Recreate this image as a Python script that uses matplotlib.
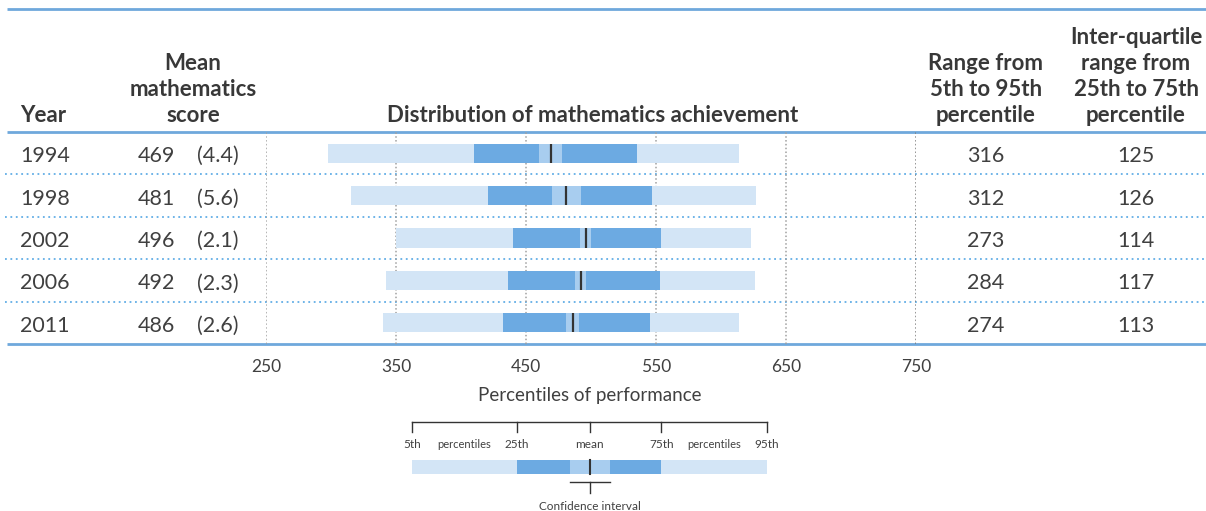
import numpy as np
import matplotlib
matplotlib.use('Agg')
import matplotlib.pyplot as plt

# data
years = ['1994', '1998', '2002', '2006', '2011']
mean_score = [469, 481, 496, 492, 486]
mean_se = [4.4, 5.6, 2.1, 2.3, 2.6]
p5 = [298, 315, 350, 342, 340]
p25 = [410, 421, 440, 436, 432]
p75 = [535, 547, 554, 553, 545]
p95 = [614, 627, 623, 626, 614]
range_5_95 = [316, 312, 273, 284, 274]
iqr_25_75 = [125, 126, 114, 117, 113]
score_ticks = [250, 350, 450, 550, 650, 750]

# schematic legend, position in percent of the key bar
key_marks = [0, 29.6, 50, 70.2, 100]
key_labels = ['5th', '25th', 'mean', '75th', '95th']
key_ci = [44.6, 55.9]

LIGHT = '#d3e5f6'
DARK = '#6caae2'
CI = '#a8cdef'
TXT = '#404040'
RULE = '#6fa8dc'
DOT = '#62aee6'

plt.rcParams['font.family'] = ['Lato', 'DejaVu Sans']

W, H = 1206, 511
fig = plt.figure(figsize=(W / 100, H / 100), dpi=100)

# background axes in pixel units for the table frame and text
bg = fig.add_axes([0, 0, 1, 1])
bg.set_xlim(0, W)
bg.set_ylim(H, 0)
bg.axis('off')

top_rule, head_rule, bot_rule = 9, 132, 344
row_h = (bot_rule - head_rule) / len(years)

for y in [top_rule, head_rule, bot_rule]:
    bg.plot([7, W], [y, y], color=RULE, lw=2, solid_capstyle='butt')
for i in range(1, len(years)):
    y = head_rule + i * row_h
    bg.plot([5, W], [y, y], color=DOT, lw=1.3, linestyle=(0, (1, 2)))

# headers
def header(x, lines, ha='center'):
    n = len(lines)
    for i, s in enumerate(lines):
        bg.text(x, 122 - 26 * (n - 1 - i), s, ha=ha, va='baseline',
                fontsize=16, fontweight='bold', color='#383838')

header(20, ['Year'], ha='left')
header(193, ['Mean', 'mathematics', 'score'])
header(593, ['Distribution of mathematics achievement'])
header(986, ['Range from', '5th to 95th', 'percentile'])
header(1136, ['Inter-quartile', 'range from', '25th to 75th', 'percentile'])

# row text
for i, yr in enumerate(years):
    yc = head_rule + (i + 0.5) * row_h + 3
    bg.text(20, yc, yr, ha='left', va='center', fontsize=15.5, color=TXT)
    bg.text(175, yc, str(mean_score[i]), ha='right', va='center', fontsize=15.5, color=TXT)
    bg.text(197, yc, '(%.1f)' % mean_se[i], ha='left', va='center', fontsize=15.5, color=TXT)
    bg.text(986, yc, str(range_5_95[i]), ha='center', va='center', fontsize=15.5, color=TXT)
    bg.text(1136, yc, str(iqr_25_75[i]), ha='center', va='center', fontsize=15.5, color=TXT)

bg.text(590, 395, 'Percentiles of performance', ha='center', va='center',
        fontsize=13.5, color=TXT)

# distribution bars
x0, x1 = 266, 916
ax = fig.add_axes([x0 / W, (H - bot_rule) / H, (x1 - x0) / W, (bot_rule - head_rule) / H])
ax.set_xlim(250, 750)
ax.set_ylim(len(years) - 0.5, -0.5)
ax.patch.set_alpha(0)
for s in ax.spines.values():
    s.set_visible(False)
ax.set_yticks([])
ax.set_xticks(score_ticks)
ax.set_xticklabels([str(t) for t in score_ticks])
ax.tick_params(axis='x', length=0, pad=11, labelsize=12.5, labelcolor=TXT)

for t in score_ticks:
    c = '#7a7a7a' if t == 750 else '#a0a0a0'
    ax.axvline(t, color=c, lw=1.1, linestyle=(0, (1, 1.5)), zorder=0)

rows = np.arange(len(years))
bh = 0.45
mean_arr = np.array(mean_score, dtype=float)
ci_half = 1.96 * np.array(mean_se)
ax.barh(rows, np.array(p95) - np.array(p5), left=p5, height=bh, color=LIGHT, zorder=2)
ax.barh(rows, np.array(p75) - np.array(p25), left=p25, height=bh, color=DARK, zorder=3)
ax.barh(rows, 2 * ci_half, left=mean_arr - ci_half, height=bh, color=CI, zorder=4)
ax.vlines(mean_arr, rows - bh / 2, rows + bh / 2, color='#333333', lw=1.6, zorder=5)

# key
kx0, kx1 = 412, 767
key = fig.add_axes([kx0 / W, 0, (kx1 - kx0) / W, 101 / H])
key.set_xlim(0, 100)
key.set_ylim(101, 0)
key.axis('off')
kc = '#333333'
key.plot([key_marks[0], key_marks[-1]], [12.3, 12.3], color=kc, lw=1, clip_on=False)
for m, lab in zip(key_marks, key_labels):
    key.plot([m, m], [12.3, 21.7], color=kc, lw=1, clip_on=False)
    key.text(m, 34, lab, ha='center', va='center', fontsize=8.5, color=TXT, clip_on=False)
for a, b in [(key_marks[0], key_marks[1]), (key_marks[3], key_marks[4])]:
    key.text((a + b) / 2, 34, 'percentiles', ha='center', va='center', fontsize=8,
             color=TXT, clip_on=False)
key.barh(57, key_marks[4] - key_marks[0], left=key_marks[0], height=14, color=LIGHT)
key.barh(57, key_marks[3] - key_marks[1], left=key_marks[1], height=14, color=DARK)
key.barh(57, key_ci[1] - key_ci[0], left=key_ci[0], height=14, color=CI)
key.plot([key_marks[2], key_marks[2]], [50, 64], color='#333333', lw=1.5)
key.plot(key_ci, [72, 72], color=kc, lw=1, clip_on=False)
key.plot([key_marks[2], key_marks[2]], [72, 83], color=kc, lw=1, clip_on=False)
key.text(key_marks[2], 96, 'Confidence interval', ha='center', va='center', fontsize=8.5,
         color=TXT, clip_on=False)

fig.savefig('out.png', dpi=100)
